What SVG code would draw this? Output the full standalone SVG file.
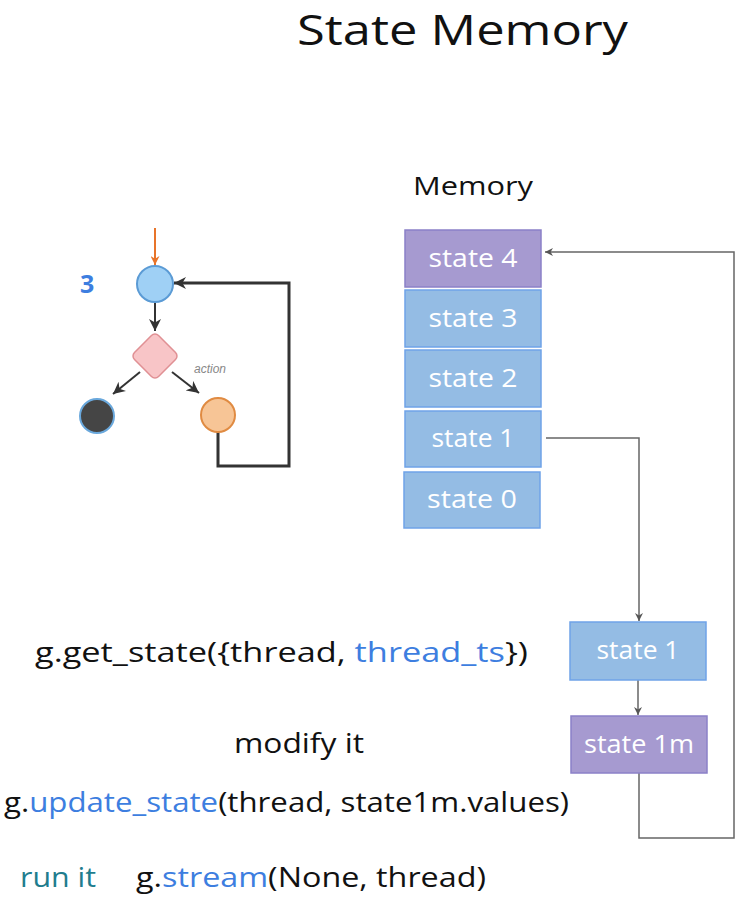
<svg xmlns="http://www.w3.org/2000/svg" width="743" height="908" viewBox="0 0 743 908">
<defs>
<style>
.t{font-family:"Open Sans","Liberation Sans",sans-serif;fill:#111}
.b{fill:#3d7ee0}
.st{font-family:"Open Sans","Liberation Sans",sans-serif;fill:#fff;font-size:25px;text-anchor:middle}
.blue{fill:#94bce4;stroke:#6fa3e8;stroke-width:1.5}
.purp{fill:#a69ad0;stroke:#8b80c8;stroke-width:1.5}
.thin{fill:none;stroke:#666;stroke-width:1.5}
.thick{fill:none;stroke:#333;stroke-width:3}
</style>
<marker id="ah" viewBox="0 0 10 10" refX="10" refY="5" markerWidth="8" markerHeight="8" orient="auto" markerUnits="userSpaceOnUse"><path d="M0,0 L10,5 L0,10 L3,5 z" fill="#555"/></marker>
<marker id="ahk" viewBox="0 0 10 10" refX="10" refY="5" markerWidth="12" markerHeight="12" orient="auto" markerUnits="userSpaceOnUse"><path d="M0,0 L10,5 L0,10 L3,5 z" fill="#333"/></marker>
<marker id="aho" viewBox="0 0 10 10" refX="10" refY="5" markerWidth="9" markerHeight="9" orient="auto" markerUnits="userSpaceOnUse"><path d="M0,0 L10,5 L0,10 L3,5 z" fill="#e8742a"/></marker>
</defs>
<rect width="743" height="908" fill="#fff"/>
<text class="t" x="297" y="45" font-size="42" textLength="331" lengthAdjust="spacingAndGlyphs">State Memory</text>
<text class="t" x="413" y="195" font-size="25" textLength="120" lengthAdjust="spacingAndGlyphs" fill="#333">Memory</text>

<g id="connectors">
<line x1="155" y1="228" x2="155" y2="265" stroke="#e8742a" stroke-width="2" marker-end="url(#aho)"/>
<line x1="155" y1="302" x2="155" y2="331" stroke="#333" stroke-width="2" marker-end="url(#ahk)"/>
<line x1="140" y1="372" x2="113" y2="394" stroke="#333" stroke-width="2" marker-end="url(#ahk)"/>
<line x1="172" y1="372" x2="199" y2="393" stroke="#333" stroke-width="2" marker-end="url(#ahk)"/>
<path class="thick" d="M218,432 V466 H289 V283 H174" marker-end="url(#ahk)"/>
<path class="thin" d="M546,438 H639 V621" marker-end="url(#ah)"/>
<path class="thin" d="M638,680 V715" marker-end="url(#ah)"/>
<path class="thin" d="M639,773 V838 H734 V252 H545" marker-end="url(#ah)"/>
</g>

<g id="label-3"><text x="80" y="293" font-family="Open Sans, Liberation Sans, sans-serif" font-weight="bold" font-size="25" fill="#3d7ee0">3</text></g>
<g id="start"><circle cx="155" cy="284" r="18" fill="#9fd0f5" stroke="#5b9bd5" stroke-width="2"/></g>
<g id="decision"><rect x="138" y="339" width="34" height="34" rx="5" transform="rotate(45 155 356)" fill="#f8c5c7" stroke="#e09094" stroke-width="1.5"/></g>
<g id="end"><circle cx="97" cy="416" r="17" fill="#454545" stroke="#6aa8dc" stroke-width="2"/></g>
<g id="action"><circle cx="218" cy="415" r="17" fill="#f7c596" stroke="#e08b42" stroke-width="2"/></g>
<text x="194" y="373" font-family="Liberation Sans, sans-serif" font-style="italic" font-size="12" fill="#888">action</text>

<g id="state4"><rect class="purp" x="405" y="230" width="136" height="57"/><text class="st" x="473" y="267" textLength="89" lengthAdjust="spacingAndGlyphs">state 4</text></g>
<g id="state3"><rect class="blue" x="405" y="290" width="136" height="57"/><text class="st" x="473" y="327" textLength="89" lengthAdjust="spacingAndGlyphs">state 3</text></g>
<g id="state2"><rect class="blue" x="405" y="350" width="136" height="57"/><text class="st" x="473" y="387" textLength="89" lengthAdjust="spacingAndGlyphs">state 2</text></g>
<g id="state1"><rect class="blue" x="405" y="411" width="136" height="56"/><text class="st" x="473" y="447" textLength="83" lengthAdjust="spacingAndGlyphs">state 1</text></g>
<g id="state0"><rect class="blue" x="404" y="472" width="136" height="56"/><text class="st" x="472" y="508" textLength="90" lengthAdjust="spacingAndGlyphs">state 0</text></g>
<g id="state1b"><rect class="blue" x="570" y="622" width="136" height="58"/><text class="st" x="638" y="659" textLength="83" lengthAdjust="spacingAndGlyphs">state 1</text></g>
<g id="state1m"><rect class="purp" x="571" y="716" width="136" height="57"/><text class="st" x="639" y="753" textLength="110" lengthAdjust="spacingAndGlyphs">state 1m</text></g>

<text class="t" x="35" y="662" font-size="27" textLength="493" lengthAdjust="spacingAndGlyphs">g.get_state({thread, <tspan class="b">thread_ts</tspan>})</text>
<text class="t" x="234" y="753" font-size="27" textLength="130" lengthAdjust="spacingAndGlyphs">modify it</text>
<text class="t" x="4" y="812" font-size="27" textLength="565" lengthAdjust="spacingAndGlyphs">g.<tspan class="b">update_state</tspan>(thread, state1m.values)</text>
<text class="t" x="20" y="887" font-size="27" textLength="76" lengthAdjust="spacingAndGlyphs" style="fill:#1f7d8e">run it</text>
<text class="t" x="136" y="887" font-size="27" textLength="350" lengthAdjust="spacingAndGlyphs">g.<tspan class="b">stream</tspan>(None, thread)</text>
</svg>
